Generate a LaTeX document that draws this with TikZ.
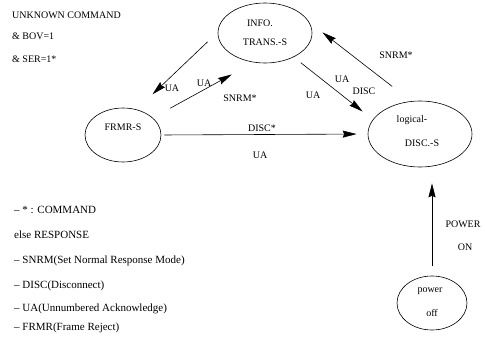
\documentclass[tikz,border=0pt]{standalone}
\usepackage{fontspec}
\setmainfont{Liberation Serif}
\usetikzlibrary{shapes.geometric,arrows.meta}
\begin{document}
\begin{tikzpicture}[x=1pt,y=-1pt,
  state/.style={draw, ellipse, line width=0.6pt, inner sep=0pt},
  txt/.style={font=\fontsize{10}{12}\selectfont, inner sep=0pt},
  lgd/.style={font=\fontsize{11}{13}\selectfont, inner sep=0pt, anchor=west},
  arr/.style={line width=0.6pt, -{Stealth[length=14pt,width=7pt,inset=1.5pt]}}]
\useasboundingbox (0,0) rectangle (485,337);
% states
\node[state, minimum width=94pt, minimum height=60pt] (info) at (265,33) {};
\node[state, minimum width=76pt, minimum height=54pt] (frmr) at (123,135) {};
\node[state, minimum width=104pt, minimum height=66pt] (logical) at (420,134) {};
\node[state, minimum width=70pt, minimum height=54pt] (power) at (432,303) {};
% state texts
\node[txt] (tinfoa) at (260,23) {INFO.};
\node[txt] (tinfob) at (265,42) {TRANS.-S};
\node[txt] (tfrmr) at (123,127) {FRMR-S};
\node[txt] (tloga) at (412,120) {logical-};
\node[txt] (tlogb) at (422,143) {DISC.-S};
\node[txt] (tpowa) at (430,291) {power};
\node[txt] (tpowb) at (432,313) {off};
% top-left note
\node[txt, anchor=west] (n1) at (12,15) {UNKNOWN COMMAND};
\node[txt, anchor=west] (n2) at (12,36) {\& BOV=1};
\node[txt, anchor=west] (n3) at (12,59) {\& SER=1*};
% transitions
\draw[arr, shorten <=14pt, shorten >=22pt] (info.179) -- (frmr.62);
\draw[arr, shorten <=20pt, shorten >=25pt] (frmr.30) -- (info.249);
\draw[arr, shorten <=3pt, shorten >=11pt] (frmr.east) -- (logical.west);
\draw[arr, shorten <=9pt, shorten >=13pt] (info.320) -- (logical.163);
\draw[arr, shorten <=24pt, shorten >=17pt] (logical.105) -- (info.14);
\draw[arr, shorten <=10pt, shorten >=16pt] (power.north) -- (power.north |- logical.south);
% labels
\node[txt] (la) at (172,88) {UA};
\node[txt] (lb) at (204,83) {UA};
\node[txt] (lc) at (240,98) {SNRM*};
\node[txt] (ld) at (262,128) {DISC*};
\node[txt] (le) at (260,155) {UA};
\node[txt] (lf) at (313,95) {UA};
\node[txt] (lg) at (342,79) {UA};
\node[txt] (lh) at (364,91) {DISC};
\node[txt] (li) at (396,55) {SNRM*};
\node[txt] (lj) at (463,224) {POWER};
\node[txt] (lk) at (465,247) {ON};
% legend
\node[lgd] (g1) at (14,210) {– * : COMMAND};
\node[lgd] (g2) at (14,235) {else RESPONSE};
\node[lgd] (g3) at (14,261) {– SNRM(Set Normal Response Mode)};
\node[lgd] (g4) at (14,286) {– DISC(Disconnect)};
\node[lgd] (g5) at (14,309) {– UA(Unnumbered Acknowledge)};
\node[lgd] (g6) at (14,328) {– FRMR(Frame Reject)};
\end{tikzpicture}
\end{document}
